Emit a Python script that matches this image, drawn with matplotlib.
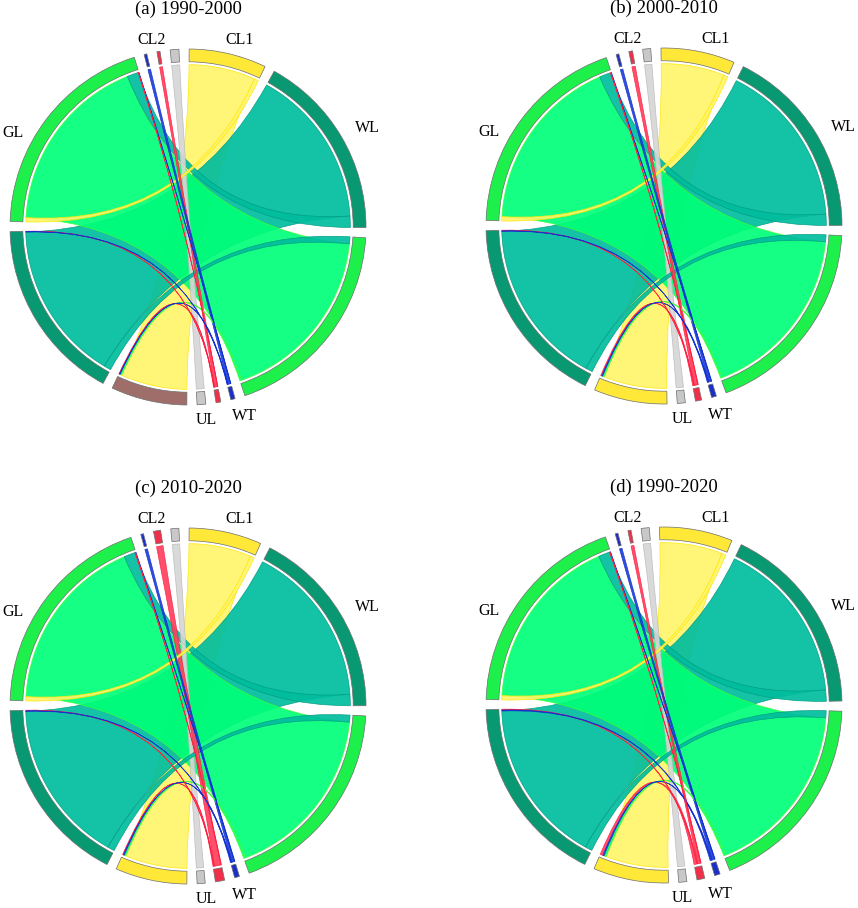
import numpy as np
import matplotlib
matplotlib.use('Agg')
import matplotlib.pyplot as plt
from matplotlib.path import Path
from matplotlib.patches import PathPatch, Wedge

plt.rcParams['font.family'] = ['Liberation Serif', 'DejaVu Serif']

# land use categories, same order on both halves (clockwise)
categories = ['GL', 'WT', 'CL2', 'UL', 'CL1', 'WL']
sectors = ['t' + c for c in categories] + ['b' + c for c in categories]

# links between sectors (t = upper half, b = lower half); colour from first end
link_from = ['tGL', 'tWL', 'tCL1', 'tUL', 'tCL2', 'tWT', 'tWL', 'bWT',
             'bCL2', 'bCL2', 'bWT', 'bGL', 'bWL', 'bCL2', 'bWT', 'tCL1']
link_to = ['bGL', 'bWL', 'bCL1', 'bUL', 'bCL2', 'bWT', 'tGL', 'tGL',
           'tGL', 'bCL1', 'bCL1', 'bCL1', 'bGL', 'bWL', 'bWL', 'tGL']

values_a = [64, 56.5, 23.5, 2.8, 1.0, 0.9, 4.0, 0.15, 0.15, 0.25, 0.2, 0.6, 2.5, 0.15, 0.15, 1.5]
values_b = [63, 59, 22.5, 2.6, 1.2, 0.9, 4.0, 0.2, 0.2, 0.4, 0.3, 0.6, 2.5, 0.2, 0.2, 1.5]
values_c = [63, 58, 22, 2.6, 2.3, 0.9, 4.0, 0.2, 0.2, 0.3, 0.3, 0.6, 2.5, 0.2, 0.2, 1.5]
values_d = [62, 58, 22, 2.6, 1.0, 0.9, 4.0, 0.2, 0.2, 1.0, 0.4, 0.8, 2.5, 0.3, 0.3, 1.5]

titles = ['(a) 1990-2000', '(b) 2000-2010', '(c) 2010-2020', '(d) 1990-2020']
panel_values = [values_a, values_b, values_c, values_d]

bar_colors = {'GL': '#1DF04B', 'WT': '#1A2EC8', 'CL2': '#F0304A',
              'UL': '#C8C8C8', 'CL1': '#FFE838', 'WL': '#089872'}
chord_colors = {'GL': '#00FF78', 'WT': '#2040D8', 'CL2': '#FF4060',
                'UL': '#D6D6D6', 'CL1': '#FFF56A', 'WL': '#00BD9E'}
chord_edges = {'GL': '#40FF30', 'WT': '#1030D0', 'CL2': '#FF2040',
               'UL': '#BBBBBB', 'CL1': '#FFE600', 'WL': '#009C80'}
brown = '#A06E6A'

# order of link ends inside each sector, clockwise
end_order = {
    'tGL': ['tCL1', 'bGL', 'tWL', 'bCL2', 'bWT'],
    'tWT': ['bWT'], 'tCL2': ['bCL2'], 'tUL': ['bUL'],
    'tCL1': ['bCL1', 'tGL'],
    'tWL': ['bWL', 'tGL'],
    'bGL': ['bWL', 'tGL', 'bCL1'],
    'bWT': ['tGL', 'tWT', 'bWL', 'bCL1'],
    'bCL2': ['tGL', 'tCL2', 'bWL', 'bCL1'],
    'bUL': ['tUL'],
    'bCL1': ['tCL1', 'bGL', 'bWT', 'bCL2'],
    'bWL': ['bGL', 'tWL', 'bWT', 'bCL2'],
}

labels = [('GL', 151.8, 1.118), ('CL2', 100.9, 1.07), ('CL1', 74.5, 1.091),
          ('WL', 29.0, 1.153), ('UL', -84.7, 1.089), ('WT', -73.4, 1.107)]

GAP = 3.3
START = 178.2
R_CHORD = 0.912
R_BAR_IN = 0.928
R_BAR_OUT = 1.0


def pt(ang, r):
    a = np.deg2rad(ang)
    return (r * np.cos(a), r * np.sin(a))


def arc(a1, a2, r):
    n = max(2, int(abs(a1 - a2) / 0.5) + 2)
    return [pt(a, r) for a in np.linspace(a1, a2, n)]


def ribbon(s1, s2, t1, t2, r):
    verts, codes = [], []
    pa = arc(s1, s2, r)
    verts += pa
    codes += [Path.MOVETO] + [Path.LINETO] * (len(pa) - 1)
    verts += [(0, 0), pt(t1, r)]
    codes += [Path.CURVE3, Path.CURVE3]
    pb = arc(t1, t2, r)[1:]
    verts += pb
    codes += [Path.LINETO] * len(pb)
    verts += [(0, 0), pt(s1, r), pt(s1, r)]
    codes += [Path.CURVE3, Path.CURVE3, Path.CLOSEPOLY]
    return Path(verts, codes)


def draw_panel(ax, values, title, cl1_bottom_color):
    sizes = {s: 0.0 for s in sectors}
    for f, t, v in zip(link_from, link_to, values):
        sizes[f] += v
        sizes[t] += v
    scale = (360 - GAP * len(sectors)) / sum(sizes.values())

    span = {}
    cur = START
    for s in sectors:
        span[s] = (cur, cur - sizes[s] * scale)
        cur = cur - sizes[s] * scale - GAP

    # place link ends inside sectors
    ends = {}
    for s in sectors:
        pos = span[s][0]
        for other in end_order[s]:
            for i, (f, t) in enumerate(zip(link_from, link_to)):
                if (f == s and t == other) or (t == s and f == other):
                    w = values[i] * scale
                    ends[(i, s)] = (pos, pos - w)
                    pos -= w

    # outer bars
    for s in sectors:
        cat = s[1:]
        col = bar_colors[cat]
        if s == 'bCL1' and cl1_bottom_color is not None:
            col = cl1_bottom_color
        a1, a2 = span[s]
        ax.add_patch(Wedge((0, 0), R_BAR_OUT, a2, a1, width=R_BAR_OUT - R_BAR_IN,
                           facecolor=col, edgecolor='#6E6E6E', linewidth=0.5))

    # chords: yellow, teal, green first, then the small ones
    big = [2, 1, 0]
    rest = sorted([i for i in range(len(values)) if i not in big],
                  key=lambda i: -values[i])
    for i in big + rest:
        f, t = link_from[i], link_to[i]
        cat = f[1:]
        s1, s2 = ends[(i, f)]
        t1, t2 = ends[(i, t)]
        ax.add_patch(PathPatch(ribbon(s1, s2, t1, t2, R_CHORD),
                               facecolor=chord_colors[cat], edgecolor=chord_edges[cat],
                               linewidth=0.5, alpha=0.92))

    for name, ang, r in labels:
        x, y = pt(ang, r)
        ax.text(x, y, name, ha='center', va='center', fontsize=11.5)
    ax.text(0, 1.222, title, ha='center', va='center', fontsize=13.5)

    ax.set_xlim(-1.25, 1.25)
    ax.set_ylim(-1.25, 1.25)
    ax.axis('off')


W, H = 858, 908
fig = plt.figure(figsize=(W / 100, H / 100), dpi=100)
centers = [(188, 227), (664, 226), (188, 706), (664, 705)]
half = 1.25 * 178
for k, (cx, cy) in enumerate(centers):
    ax = fig.add_axes([(cx - half) / W, (H - cy - half) / H, 2 * half / W, 2 * half / H])
    draw_panel(ax, panel_values[k], titles[k], brown if k == 0 else None)

fig.savefig('out.png', dpi=100)
plt.close(fig)
